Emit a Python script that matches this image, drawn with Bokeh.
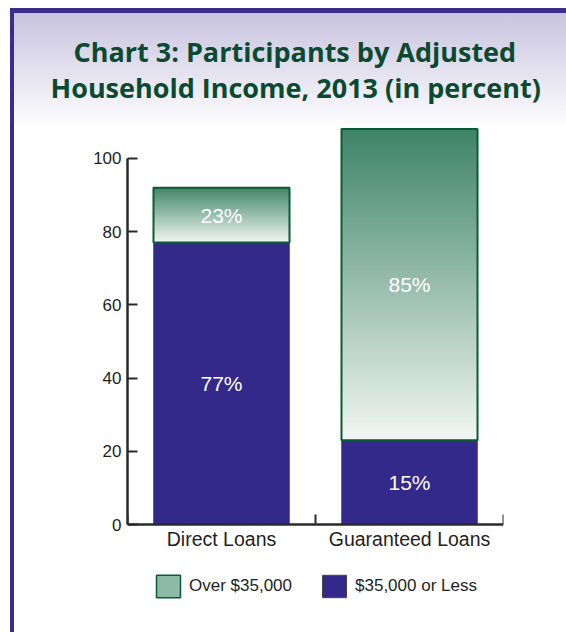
import numpy as np
from bokeh.plotting import figure
from bokeh.models import (Range1d, FixedTicker, Legend, LegendItem, ColumnDataSource, Title)
from bokeh.core.properties import value
from bokeh.embed import file_html
from bokeh.resources import INLINE

# ---------------- data (as drawn in the picture) ----------------
categories = ["Direct Loans", "Guaranteed Loans"]
cat_pos = [1, 3]
less_heights = [77, 23]      # drawn heights of "$35,000 or Less" segments
over_heights = [15, 85]      # drawn heights of "Over $35,000" segments
less_labels = ["77%", "15%"]
over_labels = ["23%", "85%"]
y_ticks = [0, 20, 40, 60, 80, 100]
series_names = ["Over $35,000", "$35,000 or Less"]
title_lines = ["Chart 3: Participants by Adjusted", "Household Income, 2013 (in percent)"]

# ---------------- styles / layout ----------------
W, H = 566, 632
FRAME_TOP, ZERO_Y, FRAME_BOTTOM = 103, 524, 602     # pixel rows
PX_PER_UNIT = 3.661
PURPLE = "#33298a"
FRAME_PURPLE = "#3c2d8c"
DARK_GREEN = "#0b5a36"
TITLE_GREEN = "#0b4a30"
TEXT = "#231f20"
AXIS = "#2a2a2a"
GRAD_TOP = np.array([63, 133, 104])
GRAD_BOT = np.array([243, 247, 245])
BAR_W = 1.447

y_lo = -(FRAME_BOTTOM - ZERO_Y) / PX_PER_UNIT
y_hi = (ZERO_Y - FRAME_TOP) / PX_PER_UNIT

p = figure(width=W, height=H, x_range=Range1d(0, 4), y_range=Range1d(y_lo, y_hi),
           output_backend="svg", toolbar_location=None,
           min_border_left=127, min_border_right=63, min_border_top=FRAME_TOP,
           min_border_bottom=H - FRAME_BOTTOM)
p.outline_line_color = None
p.grid.visible = False
p.background_fill_alpha = 0
p.border_fill_alpha = 0
# page decoration: purple frame lines and lavender header gradient
p.styles = {
    "background": (
        f"linear-gradient({FRAME_PURPLE}, {FRAME_PURPLE}) 10px 8px / 556px 5px no-repeat, "
        f"linear-gradient({FRAME_PURPLE}, {FRAME_PURPLE}) 10px 8px / 4px 624px no-repeat, "
        "linear-gradient(to bottom, #c8c4df, #ffffff) 14px 13px / 552px 117px no-repeat, "
        "#ffffff"
    )
}

# title: two centred lines (added bottom line first)
title_offsets = [-54, -77]
title_standoffs = [-2, -4]
for line, off, so in reversed(list(zip(title_lines, title_offsets, title_standoffs))):
    p.add_layout(Title(text=line, align="left", offset=off, standoff=so,
                       text_font="Open Sans", text_font_style="bold",
                       text_font_size="27px", text_color=TITLE_GREEN), "above")

# ---------------- bars ----------------
less = np.array(less_heights, dtype=float)
over = np.array(over_heights, dtype=float)
tops = less + over
xs = np.array(cat_pos, dtype=float)

p.vbar(x=xs, top=less, width=BAR_W, fill_color=PURPLE, line_color=PURPLE, line_width=0.5)

# gradient image for "Over" segments
nrows = 256
tt = np.linspace(0, 1, nrows)[:, None]
rgb = GRAD_BOT * (1 - tt) + GRAD_TOP * tt
img = np.empty((nrows, 1), dtype=np.uint32)
view = img.view(dtype=np.uint8).reshape((nrows, 1, 4))
view[..., 0] = rgb[:, 0:1].astype(np.uint8)
view[..., 1] = rgb[:, 1:2].astype(np.uint8)
view[..., 2] = rgb[:, 2:3].astype(np.uint8)
view[..., 3] = 255
p.image_rgba(image=[img for _ in xs], x=list(xs - BAR_W / 2), y=list(less),
             dw=[BAR_W] * len(xs), dh=list(over))
p.vbar(x=xs, bottom=less, top=tops, width=BAR_W, fill_color=None,
       line_color=DARK_GREEN, line_width=2)

# legend-only renderers (hidden)
r_over_leg = p.vbar(x=xs, bottom=less, top=tops, width=BAR_W, fill_color="#8fb9a7",
                    line_color=DARK_GREEN, line_width=1.5, visible=False)
r_less_leg = p.vbar(x=xs, top=less, width=BAR_W, fill_color=PURPLE,
                    line_color="#444444", line_width=1, visible=False)

# value labels
lab_src = ColumnDataSource(dict(
    x=list(xs) + list(xs),
    y=list(less / 2) + list(less + over / 2),
    text=less_labels + over_labels,
))
p.text(x="x", y="y", text="text", source=lab_src, text_color="white",
       text_font=value("Liberation Sans"), text_font_size="21px",
       text_align="center", text_baseline="middle")

# ---------------- axes ----------------
yax = p.yaxis[0]
yax.ticker = FixedTicker(ticks=y_ticks)
yax.bounds = (0, 100)
yax.major_tick_in = 10
yax.major_tick_out = 0
yax.minor_tick_in = 0
yax.minor_tick_out = 0
yax.axis_line_width = 2.5
yax.axis_line_color = AXIS
yax.major_tick_line_width = 2
yax.major_tick_line_color = AXIS
yax.major_label_text_font = "Liberation Sans"
yax.major_label_text_font_size = "17px"
yax.major_label_text_color = TEXT
yax.major_label_standoff = 6

xax = p.xaxis[0]
xax.fixed_location = 0
boundaries = [0] + [c + 1 for c in cat_pos]
xax.ticker = FixedTicker(ticks=cat_pos, minor_ticks=boundaries)
xax.bounds = (0, 4)
xax.major_label_overrides = {pos: name for pos, name in zip(cat_pos, categories)}
xax.major_tick_in = 0
xax.major_tick_out = 0
xax.minor_tick_in = 10
xax.minor_tick_out = 0
xax.minor_tick_line_width = 2
xax.minor_tick_line_color = AXIS
xax.axis_line_width = 2.5
xax.axis_line_color = AXIS
xax.major_label_text_font = "Liberation Sans"
xax.major_label_text_font_size = "19.5px"
xax.major_label_text_color = TEXT
xax.major_label_standoff = 3

# ---------------- legend ----------------
legend = Legend(items=[LegendItem(label=series_names[0], renderers=[r_over_leg]),
                       LegendItem(label=series_names[1], renderers=[r_less_leg])],
                orientation="horizontal", location=(26, 2),
                glyph_width=30, glyph_height=28, label_standoff=6, spacing=27,
                padding=0, margin=0, border_line_color=None, background_fill_alpha=0,
                label_text_font="Liberation Sans", label_text_font_size="17px",
                label_text_color=TEXT, inactive_fill_alpha=0)
p.add_layout(legend)

open("out.html", "w").write(file_html(p, INLINE))
